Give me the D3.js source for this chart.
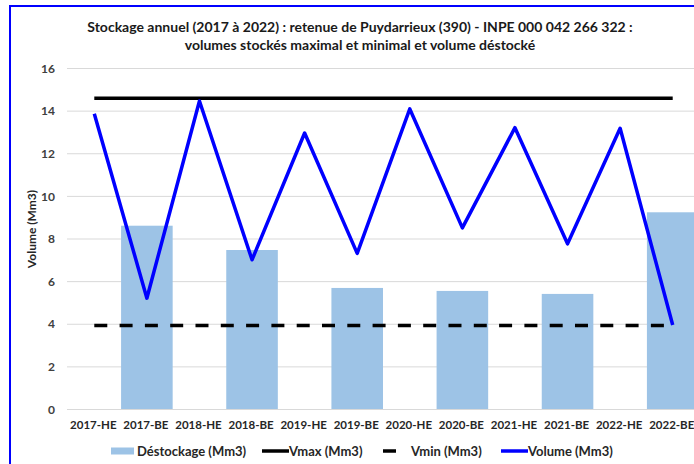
<!DOCTYPE html>
<html>
<head>
<meta charset="utf-8">
<script src="https://cdn.jsdelivr.net/npm/d3@7"></script>
<style>
  html, body { margin: 0; padding: 0; background: #fff; }
  svg { display: block; }
  text { font-family: Lato, "Open Sans", sans-serif; font-weight: bold; }
</style>
</head>
<body>
<svg id="chart" width="694" height="464"></svg>
<script>
// ---- data ----
const categories = ["2017-HE","2017-BE","2018-HE","2018-BE","2019-HE","2019-BE","2020-HE","2020-BE","2021-HE","2021-BE","2022-HE","2022-BE"];
const destockage = [null, 8.6, null, 7.46, null, 5.68, null, 5.54, null, 5.4, null, 9.23];
const volume = [13.85, 5.2, 14.45, 7.0, 12.95, 7.3, 14.08, 8.5, 13.2, 7.75, 13.17, 3.94];
const vmax = [14.58, 14.58, 14.58, 14.58, 14.58, 14.58, 14.58, 14.58, 14.58, 14.58, 14.58, 14.58];
const vmin = [3.92, 3.92, 3.92, 3.92, 3.92, 3.92, 3.92, 3.92, 3.92, 3.92, 3.92, 3.92];
const yTicks = [0, 2, 4, 6, 8, 10, 12, 14, 16];
const titleLines = ["Stockage annuel (2017 à 2022) : retenue de Puydarrieux (390) - INPE 000 042 266 322 :", "volumes stockés maximal et minimal et volume déstocké"];
const yTitle = "Volume (Mm3)";
const legendLabels = ["Déstockage (Mm3)", "Vmax (Mm3)", "Vmin (Mm3)", "Volume (Mm3)"];

const svg = d3.select("#chart");

// outer border (chart frame, cut by the picture on right and bottom)
svg.append("rect").attr("x", 10).attr("y", 6).attr("width", 720).attr("height", 500)
  .attr("fill", "#fff").attr("stroke", "#0000ff").attr("stroke-width", 2);

const plot = { left: 68, right: 699, top: 68, bottom: 409 };
const x = d3.scaleBand().domain(categories).range([plot.left, plot.right]).padding(0);
const y = d3.scaleLinear().domain([0, 16]).range([plot.bottom, plot.top]);

// gridlines
const yAxis = d3.axisLeft(y).tickValues(yTicks).tickSize(-(plot.right - plot.left + 2)).tickPadding(12);
const gy = svg.append("g").attr("transform", `translate(${plot.left - 1},0)`).call(yAxis);
gy.select(".domain").remove();
gy.selectAll(".tick line").attr("stroke", "#d9d9d9").attr("stroke-width", 1);
gy.selectAll(".tick text").attr("fill", "#404040").style("font-size", "12px").attr("dy", "0.35em");

// x axis labels
const xAxis = d3.axisBottom(x).tickSize(0).tickPadding(16);
const gx = svg.append("g").attr("transform", `translate(0,${plot.bottom})`).call(xAxis);
gx.select(".domain").remove();
gx.selectAll(".tick text").attr("fill", "#262626").style("font-size", "11.5px").attr("dy", "0.35em")
  .attr("transform", "translate(-1,0)");

// bars
const barW = x.bandwidth() - 1;
svg.append("g").selectAll("rect").data(categories.map((c, i) => ({ c, v: destockage[i] })).filter(d => d.v != null))
  .join("rect")
  .attr("x", d => x(d.c) + (x.bandwidth() - barW) / 2)
  .attr("width", barW)
  .attr("y", d => y(d.v))
  .attr("height", d => y(0) - y(d.v))
  .attr("fill", "#9dc3e6");

const cx = c => x(c) + x.bandwidth() / 2;
const lineGen = arr => d3.line().x((d, i) => cx(categories[i])).y(d => y(d))(arr);

// Vmax
svg.append("path").attr("d", lineGen(vmax)).attr("fill", "none").attr("stroke", "#000").attr("stroke-width", 3.5);
// Vmin dashed
svg.append("path").attr("d", lineGen(vmin)).attr("fill", "none").attr("stroke", "#000").attr("stroke-width", 3.5)
  .attr("stroke-dasharray", "13,12.3");
// Volume
svg.append("path").attr("d", lineGen(volume)).attr("fill", "none").attr("stroke", "#0000ff").attr("stroke-width", 3.5)
  .attr("stroke-linejoin", "round");

// title
const title = svg.append("g");
title.append("text").attr("x", 360).attr("y", 32).attr("text-anchor", "middle").attr("fill", "#1a1a1a")
  .style("font-size", "14px").text(titleLines[0]);
title.append("text").attr("x", 360).attr("y", 50).attr("text-anchor", "middle").attr("fill", "#1a1a1a")
  .style("font-size", "14px").text(titleLines[1]);

// y title
svg.append("text").attr("transform", `translate(36,229) rotate(-90)`).attr("text-anchor", "middle")
  .attr("fill", "#262626").style("font-size", "12px").text(yTitle);

// legend
const leg = svg.append("g");
const ly = 451;
leg.append("rect").attr("x", 111).attr("y", ly - 3.5).attr("width", 23).attr("height", 7).attr("fill", "#9dc3e6");
leg.append("line").attr("x1", 262).attr("x2", 289).attr("y1", ly).attr("y2", ly).attr("stroke", "#000").attr("stroke-width", 3.5);
leg.append("line").attr("x1", 383).attr("x2", 396).attr("y1", ly).attr("y2", ly).attr("stroke", "#000").attr("stroke-width", 3.5);
leg.append("line").attr("x1", 501).attr("x2", 528).attr("y1", ly).attr("y2", ly).attr("stroke", "#0000ff").attr("stroke-width", 3.5);
const lx = [137, 289, 411, 528];
legendLabels.forEach((t, i) => {
  leg.append("text").attr("x", lx[i]).attr("y", ly).attr("dy", "0.35em").attr("fill", "#262626")
    .style("font-size", "13px").text(t);
});
</script>
</body>
</html>
